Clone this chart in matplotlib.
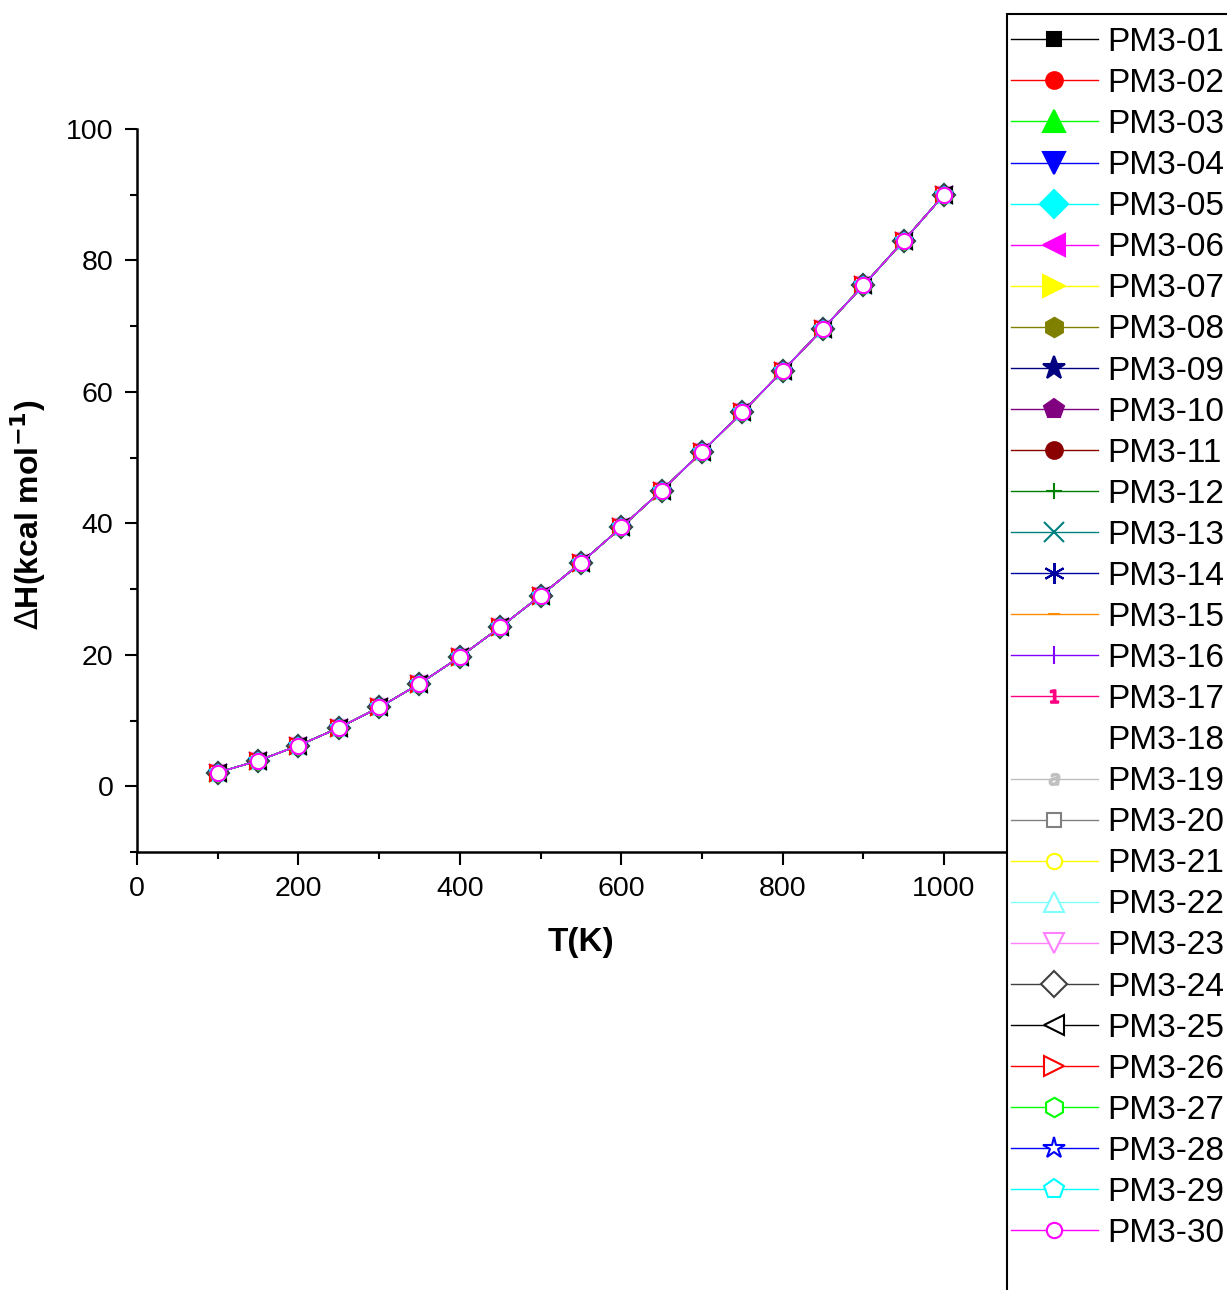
import numpy as np
import matplotlib
matplotlib.use('Agg')
import matplotlib.pyplot as plt
from matplotlib.ticker import MultipleLocator
from matplotlib.patches import Rectangle

plt.rcParams['font.family'] = ['Liberation Sans', 'DejaVu Sans']

# Temperature grid and enthalpy (kcal/mol); all 30 conformers coincide at this scale
T = [100, 150, 200, 250, 300, 350, 400, 450, 500, 550,
     600, 650, 700, 750, 800, 850, 900, 950, 1000]
dH = [2.1, 3.9, 6.2, 8.9, 12.0, 15.6, 19.7, 24.2, 29.0, 34.0,
      39.4, 45.0, 50.9, 56.9, 63.2, 69.6, 76.2, 83.0, 90.0]

labels = ['PM3-%02d' % i for i in range(1, 31)]
colors = ['black', 'red', '#00FF00', 'blue', 'cyan', 'magenta', 'yellow', 'olive',
          'navy', 'purple', 'darkred', 'green', 'teal', '#0000A0', 'darkorange',
          '#8000FF', '#FF0080', 'white', '#C0C0C0', 'gray', 'yellow', '#80FFFF',
          '#FF80FF', '#404040', 'black', 'red', '#00FF00', 'blue', 'cyan', 'magenta']
markers = ['s', 'o', '^', 'v', 'D', '<', '>', 'h', '*', 'p',
           'o', '+', 'x', (6, 2, 0), '_', '|', '$1$', 'None', '$a$', 's',
           'o', '^', 'v', 'D', '<', '>', 'h', '*', 'p', 'o']
sizes = [9, 11, 12, 12, 11, 12, 12, 12, 13, 12,
         11, 11, 12, 12, 8, 12, 8, 8, 7, 9,
         11, 12, 12, 11, 12, 12, 12, 13, 12, 11]
# marker sizes used in the legend key
leg_sizes = [10, 12, 16, 16, 14, 16, 16, 14, 17, 15,
             12, 12, 15, 15, 8, 13, 9, 8, 8, 10,
             11, 15, 15, 13, 15, 15, 14, 16, 15, 11]
filled = [True] * 19 + [False] * 11

fig = plt.figure(figsize=(12.27, 12.90), dpi=100)
ax = fig.add_axes([0.1117, 0.3395, 0.7103, 0.5605])

for i in range(30):
    face = colors[i] if filled[i] else 'white'
    ax.plot(T, dH, color=colors[i], lw=1, marker=markers[i], markersize=sizes[i],
            markerfacecolor=face, markeredgecolor=colors[i], markeredgewidth=1.5,
            label=labels[i])

ax.set_xlim(0, 1080)
ax.set_ylim(-10, 100)
ax.xaxis.set_major_locator(MultipleLocator(200))
ax.xaxis.set_minor_locator(MultipleLocator(100))
ax.yaxis.set_major_locator(MultipleLocator(20))
ax.yaxis.set_minor_locator(MultipleLocator(10))
ax.tick_params(which='major', direction='out', length=9, width=1.5, labelsize=20.5, pad=8)
ax.tick_params(which='minor', direction='out', length=5, width=1.5)
for s in ['top', 'right']:
    ax.spines[s].set_visible(False)
for s in ['left', 'bottom']:
    ax.spines[s].set_linewidth(1.8)

ax.set_xlabel('T(K)', fontsize=24, fontweight='bold')
ax.set_ylabel(r'$\Delta$H(kcal mol$^{\mathbf{-1}}$)', fontsize=23, fontweight='bold')
ax.xaxis.set_label_coords(0.509, -0.104)
ax.yaxis.set_label_coords(-0.102, 0.467)

# legend box runs past the right and bottom edges of the figure
fig.patches.append(Rectangle((1007 / 1227, -0.05), 0.3, 1 - 14 / 1290 + 0.05,
                             transform=fig.transFigure, facecolor='white',
                             edgecolor='black', linewidth=1.5, zorder=3))
leg = fig.legend(loc='upper left', bbox_to_anchor=(1011 / 1227, 1 - 27 / 1290),
                 fontsize=24, frameon=False, handlelength=2.6,
                 handletextpad=0.3, labelspacing=0.302, borderpad=0, borderaxespad=0)
leg.set_zorder(4)
for h, ms in zip(leg.legend_handles, leg_sizes):
    h.set_markersize(ms)

fig.savefig('out.png', dpi=100)
